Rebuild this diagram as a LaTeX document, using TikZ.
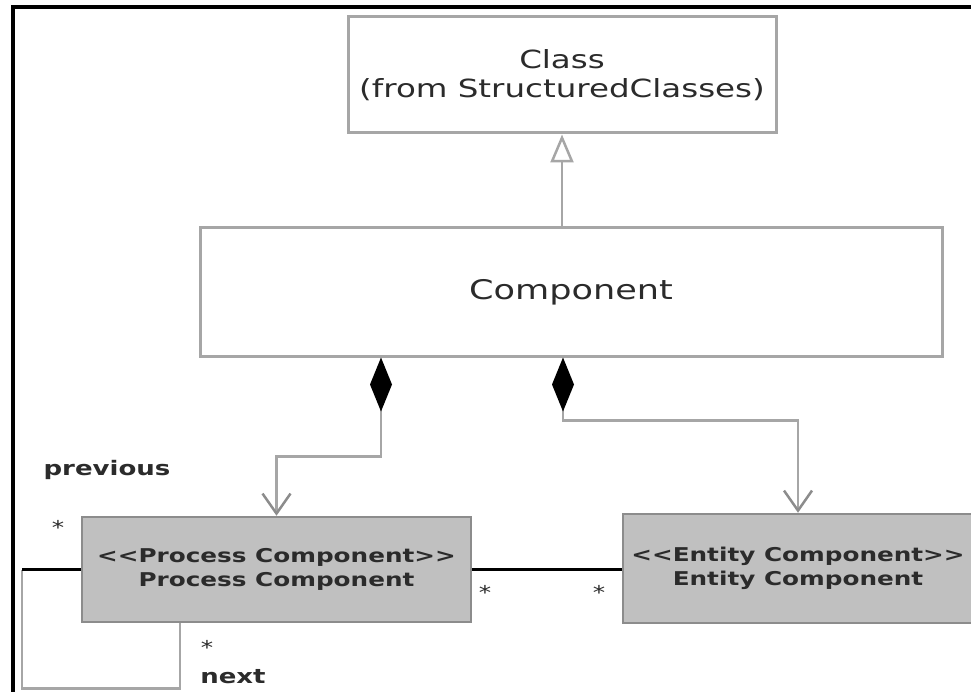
\documentclass[tikz,border=0pt]{standalone}
\usepackage{fontspec}
\setmainfont{DejaVu Sans}[FakeStretch=1.3]
\usetikzlibrary{arrows.meta}
\definecolor{boxline}{HTML}{A6A6A6}
\definecolor{boxfill}{HTML}{C0C0C0}
\definecolor{darkline}{HTML}{8C8C8C}
\definecolor{txt}{HTML}{2B2B2B}

\begin{document}
\begin{tikzpicture}[x=1pt, y=-1pt,
  every box/.style={draw=boxline, line width=3pt, fill=white, text=txt,
    align=center, inner sep=0pt},
  stereo box/.style={fill=boxfill, draw=darkline, line width=2.5pt,
    font=\bfseries\fontsize{19}{24}\selectfont},
  label text/.style={text=txt, inner sep=0pt,
    font=\bfseries\fontsize{20}{24}\selectfont},
  mult/.style={text=txt, inner sep=0pt, font=\fontsize{19}{20}\selectfont},
  gen/.style={draw=boxline, line width=2.5pt,
    -{Triangle[open, fill=white, length=28pt, width=23pt]}},
  comp/.style={draw=boxline, line width=2.5pt,
    {Diamond[length=54pt, width=22pt, color=black]}-{Straight Barb[length=20pt, width=28pt, color=darkline]}},
  assoc/.style={draw=black, line width=2.5pt}]

\useasboundingbox (0,0) rectangle (971,692);

% frame
\draw [line width=3.5pt] (13,692) -- (13,7) -- (971,7);

% classes
\node [every box, minimum width=428pt, minimum height=116pt,
  font=\fontsize{25}{29}\selectfont] (box-class) at (562,75)
  {Class\\(from StructuredClasses)};
\node [every box, minimum width=742pt, minimum height=128pt,
  font=\fontsize{27}{32}\selectfont] (box-component) at (571,292) {Component};
\node [every box, stereo box, minimum width=389pt, minimum height=105pt]
  (box-process) at (276.5,569.5) {<{}<Process Component>{}>\\Process Component};
\node [every box, stereo box, minimum width=350pt, minimum height=109pt]
  (box-entity) at (798,568.5) {<{}<Entity Component>{}>\\Entity Component};

% generalisation
\draw [gen] (box-component.north -| box-class.south) -- (box-class.south);

% composition
\draw [comp] ([xshift=-190pt]box-component.south) -- ++(0,99) -| (box-process.north);
\draw [comp] ([xshift=-8pt]box-component.south) -- ++(0,63) -| (box-entity.north);

% association
\draw [assoc] (box-process.east) -- (box-process.east -| box-entity.west);

% self association
\draw [draw=boxline, line width=2.5pt] ([xshift=-59pt]box-process.west) -- ++(0,119)
  -| ([xshift=-96.5pt]box-process.south);
\draw [assoc] (box-process.west) -- ++(-59,0);

\node [label text] (role-previous) at (107,470) {previous};
\node [label text] (role-next) at (233,677) {next};

\foreach \x/\y in {58/527,207/647,485/592,599/592}
  \node [mult] (star-\x) at (\x,\y) {*};

\end{tikzpicture}
\end{document}
